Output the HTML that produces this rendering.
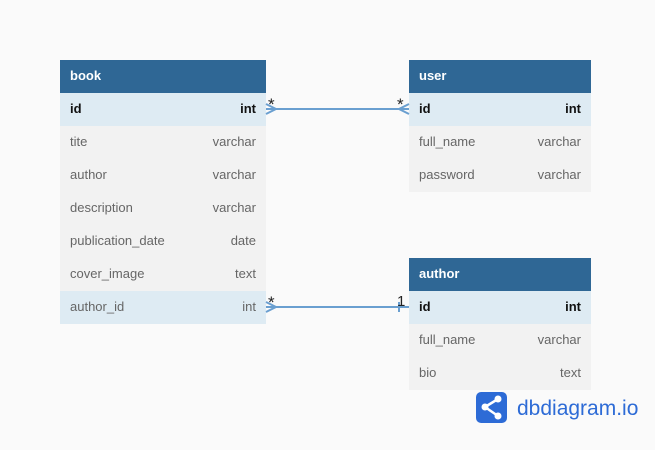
<!DOCTYPE html>
<html><head><meta charset="utf-8"><style>
body{margin:0;width:655px;height:450px;background:#fafafa;position:relative;overflow:hidden;font-family:"Liberation Sans",sans-serif;}
.t{position:absolute;}
.h{background:#2f6795;color:#fff;font-weight:bold;font-size:13px;height:33px;line-height:31px;padding-left:10px;box-sizing:border-box;}
.r{background:#f2f2f2;height:33px;line-height:31px;font-size:13px;color:#666;padding:0 10px;display:flex;justify-content:space-between;box-sizing:border-box;}
.r.k{background:#deebf3;}
.r.b{color:#111;font-weight:bold;}
</style></head><body>
<div class="t" style="left:60px;top:60px;width:206px">
<div class="h">book</div>
<div class="r k b"><span>id</span><span>int</span></div>
<div class="r"><span>tite</span><span>varchar</span></div>
<div class="r"><span>author</span><span>varchar</span></div>
<div class="r"><span>description</span><span>varchar</span></div>
<div class="r"><span>publication_date</span><span>date</span></div>
<div class="r"><span>cover_image</span><span>text</span></div>
<div class="r k"><span>author_id</span><span>int</span></div>
</div>
<div class="t" style="left:409px;top:60px;width:182px">
<div class="h">user</div>
<div class="r k b"><span>id</span><span>int</span></div>
<div class="r"><span>full_name</span><span>varchar</span></div>
<div class="r"><span>password</span><span>varchar</span></div>
</div>
<div class="t" style="left:409px;top:258px;width:182px">
<div class="h">author</div>
<div class="r k b"><span>id</span><span>int</span></div>
<div class="r"><span>full_name</span><span>varchar</span></div>
<div class="r"><span>bio</span><span>text</span></div>
</div>
<svg class="t" style="left:0;top:0" width="655" height="450">
<g stroke="#6a9fd0" stroke-width="2" fill="none">
<line x1="266" y1="109" x2="409" y2="109"/>
<polyline points="266,104 276,109 266,114"/>
<polyline points="409,104 399,109 409,114"/>
<line x1="266" y1="307" x2="409" y2="307"/>
<polyline points="266,302 276,307 266,312"/>
<line x1="399" y1="302" x2="399" y2="312"/>
</g>
<g font-family="Liberation Sans,sans-serif" font-size="17" fill="#222">
<text x="268" y="110">*</text><text x="397" y="110">*</text>
<text x="268" y="308">*</text>
</g>
<text x="397" y="306" font-family="Liberation Sans,sans-serif" font-size="15" fill="#222">1</text>
<rect x="476" y="392" width="31" height="31" rx="5" fill="#2d6bd6"/>
<g stroke="#fff" stroke-width="2.5"><line x1="485" y1="407" x2="498" y2="399"/><line x1="485" y1="407" x2="498" y2="416"/></g>
<circle cx="485" cy="407" r="3.5" fill="#fff"/><circle cx="498" cy="399" r="3.5" fill="#fff"/><circle cx="498" cy="416" r="3.5" fill="#fff"/>
<text x="517" y="415" font-family="Liberation Sans,sans-serif" font-size="21" fill="#2d6bd6">dbdiagram.io</text>
</svg>
</body></html>
